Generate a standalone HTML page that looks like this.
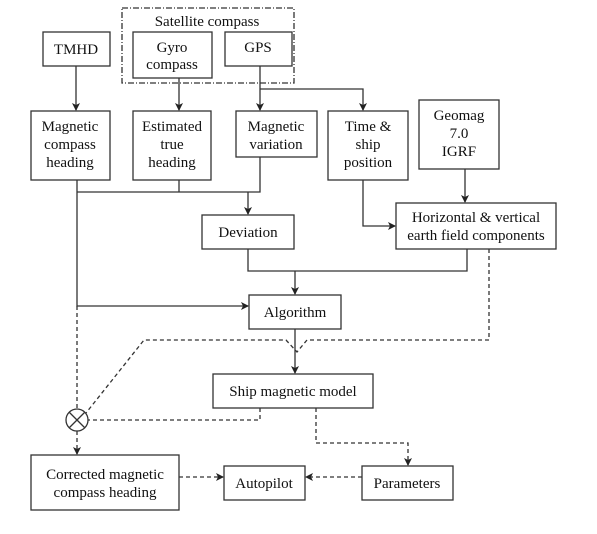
<!DOCTYPE html>
<html><head><style>
body{margin:0;background:#fff;}
svg text{font-family:"Liberation Serif",serif;font-size:15px;fill:#111;text-anchor:middle;}
</style></head><body>
<svg width="597" height="529" viewBox="0 0 597 529" xmlns="http://www.w3.org/2000/svg">
<defs>
<marker id="a" markerWidth="8" markerHeight="8" refX="7" refY="4" orient="auto" markerUnits="userSpaceOnUse">
<path d="M0,0 L8,4 L0,8 L2,4 z" fill="#222"/></marker>
</defs>
<g fill="none" stroke="#333" stroke-width="1.3">
<rect x="122" y="8" width="172" height="75" stroke-dasharray="6,2,1,2"/>
<rect x="43" y="32" width="67" height="34"/>
<rect x="133" y="32" width="79" height="46"/>
<rect x="225" y="32" width="67" height="34"/>
<rect x="31" y="111" width="79" height="69"/>
<rect x="133" y="111" width="78" height="69"/>
<rect x="236" y="111" width="81" height="46"/>
<rect x="328" y="111" width="80" height="69"/>
<rect x="419" y="100" width="80" height="69"/>
<rect x="396" y="203" width="160" height="46"/>
<rect x="202" y="215" width="92" height="34"/>
<rect x="249" y="295" width="92" height="34"/>
<rect x="213" y="374" width="160" height="34"/>
<rect x="31" y="455" width="148" height="55"/>
<rect x="224" y="466" width="81" height="34"/>
<rect x="362" y="466" width="91" height="34"/>
<circle cx="77" cy="420" r="11"/>
<path d="M69,412 L85,428 M85,412 L69,428"/>
<!-- solid connectors -->
<path d="M76,66 V110" marker-end="url(#a)"/>
<path d="M179,78 V110" marker-end="url(#a)"/>
<path d="M260,66 V110" marker-end="url(#a)"/>
<path d="M260,89 H363 V110" marker-end="url(#a)"/>
<path d="M77,180 V306 H248" marker-end="url(#a)"/>
<path d="M77,192 H260 V157 M179,180 V192"/>
<path d="M248,192 V214" marker-end="url(#a)"/>
<path d="M363,180 V226 H395" marker-end="url(#a)"/>
<path d="M465,169 V202" marker-end="url(#a)"/>
<path d="M248,249 V271 H467 V249"/>
<path d="M295,271 V294" marker-end="url(#a)"/>
<path d="M295,329 V373" marker-end="url(#a)"/>
<!-- dashed -->
<g stroke-dasharray="4,3">
<path d="M77,306 V409"/>
<path d="M489,249 V340 H307 L297,352 L286,340 H144 L86,413"/>
<path d="M260,408 V420 H88"/>
<path d="M77,431 V454" marker-end="url(#a)"/>
<path d="M316,408 V443 H408 V465" marker-end="url(#a)"/>
<path d="M179,477 H223" marker-end="url(#a)"/>
<path d="M362,477 H306" marker-end="url(#a)"/>
</g>
</g>
<text x="207" y="26">Satellite compass</text>
<text x="76" y="54">TMHD</text>
<text x="172" y="52">Gyro</text>
<text x="172" y="69">compass</text>
<text x="258" y="52">GPS</text>
<text x="70" y="131">Magnetic</text>
<text x="70" y="149">compass</text>
<text x="70" y="167">heading</text>
<text x="172" y="131">Estimated</text>
<text x="172" y="149">true</text>
<text x="172" y="167">heading</text>
<text x="276" y="131">Magnetic</text>
<text x="276" y="149">variation</text>
<text x="368" y="131">Time &amp;</text>
<text x="368" y="149">ship</text>
<text x="368" y="167">position</text>
<text x="459" y="120">Geomag</text>
<text x="459" y="138">7.0</text>
<text x="459" y="156">IGRF</text>
<text x="476" y="222">Horizontal &amp; vertical</text>
<text x="476" y="240">earth field components</text>
<text x="248" y="237">Deviation</text>
<text x="295" y="317">Algorithm</text>
<text x="293" y="396">Ship magnetic model</text>
<text x="105" y="479">Corrected magnetic</text>
<text x="105" y="497">compass heading</text>
<text x="264" y="488">Autopilot</text>
<text x="407" y="488">Parameters</text>
</svg>
</body></html>
